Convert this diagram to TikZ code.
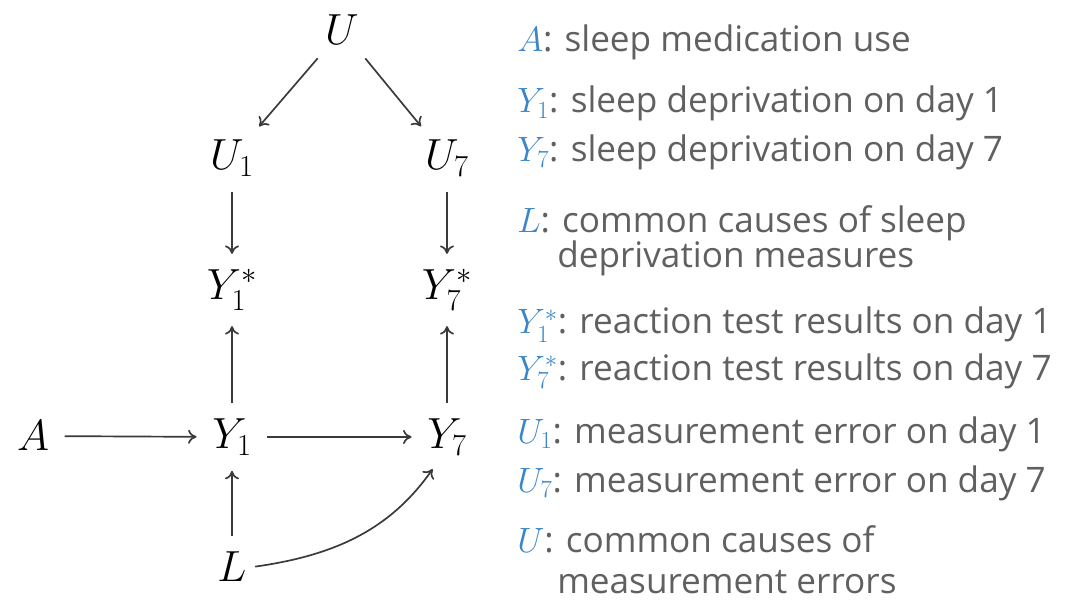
\RequirePackage{fix-cm}
\documentclass[tikz,border=0pt]{standalone}
\usepackage{fontspec}
\setsansfont{Open Sans}
\usetikzlibrary{arrows.meta}
\definecolor{ink}{HTML}{3A3A3A}
\definecolor{muted}{HTML}{606060}
\definecolor{varblue}{HTML}{3A86C8}
\newcommand{\legvar}[1]{\textcolor{varblue}{$#1$}}

\begin{document}
\begin{tikzpicture}[x=0.025cm,y=-0.025cm,
          dag/.style={font=\fontsize{31}{37}\selectfont,inner sep=4pt},
          arr/.style={-{To[length=6pt,width=10pt]},line width=1.2pt,ink,
              shorten >=7pt,shorten <=7pt},
          legend/.style={anchor=base west,inner sep=0pt,text=muted,
              font=\sffamily\fontsize{25}{30}\selectfont}]
        \useasboundingbox (0,0) rectangle (1066,603);

        \node[dag] (U) at (342,30) {$U$};
        \node[dag] (U1) at (232,158) {$U_1$};
        \node[dag] (U7) at (447,158) {$U_7$};
        \node[dag] (Y1s) at (232,290) {$Y_1^*$};
        \node[dag] (Y7s) at (447,290) {$Y_7^*$};
        \node[dag] (A) at (33,436) {$A$};
        \node[dag] (Y1) at (232,437) {$Y_1$};
        \node[dag] (Y7) at (447,437) {$Y_7$};
        \node[dag] (L) at (232,567) {$L$};

        \draw[arr] (U)--(U1);
        \draw[arr] (U)--(U7);
        \draw[arr] (U1)--(Y1s);
        \draw[arr] (U7)--(Y7s);
        \draw[arr] (Y1)--(Y1s);
        \draw[arr] (Y7)--(Y7s);
        \draw[arr] (A)--(Y1);
        \draw[arr] (Y1)--(Y7);
        \draw[arr] (L)--(Y1);
        \draw[arr,shorten <=2pt] (L.east) to[out=8,in=-125] (Y7.-110);

        \node[legend] (legA) at (517,52) {\legvar{A}: sleep medication use};
        \node[legend] (legY1) at (517,113) {\legvar{Y_1}: sleep deprivation on day 1};
        \node[legend] (legY7) at (517,162) {\legvar{Y_7}: sleep deprivation on day 7};
        \node[legend] (legL) at (517,233) {\legvar{L}: common causes of sleep};
        \node[legend] (legL2) at (557,268) {deprivation measures};
        \node[legend] (legY1s) at (517,334) {\legvar{Y_1^*}: reaction test results on day 1};
        \node[legend] (legY7s) at (517,380) {\legvar{Y_7^*}: reaction test results on day 7};
        \node[legend] (legU1) at (517,443) {\legvar{U_1}: measurement error on day 1};
        \node[legend] (legU7) at (517,492) {\legvar{U_7}: measurement error on day 7};
        \node[legend] (legU) at (517,552) {\legvar{U}: common causes of};
        \node[legend] (legU2) at (557,593) {measurement errors};
      \end{tikzpicture}
\end{document}
